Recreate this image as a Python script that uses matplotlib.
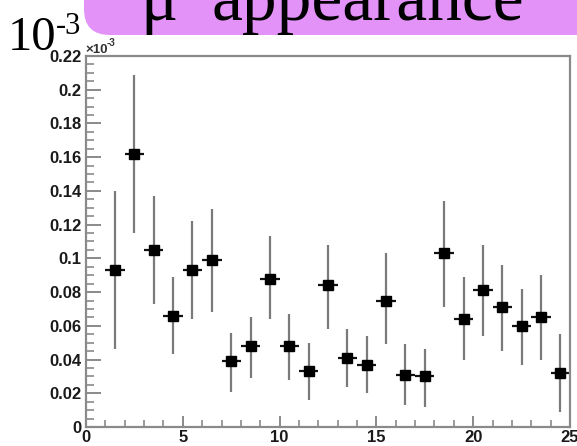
import numpy as np
import matplotlib.pyplot as plt
from matplotlib.patches import FancyBboxPatch
from matplotlib.ticker import MultipleLocator, FormatStrFormatter

# bin centres and measured values (in units of 1e-3)
bin_centres = [1.5, 2.5, 3.5, 4.5, 5.5, 6.5, 7.5, 8.5, 9.5, 10.5, 11.5, 12.5,
               13.5, 14.5, 15.5, 16.5, 17.5, 18.5, 19.5, 20.5, 21.5, 22.5, 23.5, 24.5]
values = [0.093, 0.162, 0.105, 0.066, 0.093, 0.099, 0.039, 0.048, 0.088, 0.048, 0.033, 0.084,
          0.041, 0.037, 0.075, 0.031, 0.030, 0.103, 0.064, 0.081, 0.071, 0.060, 0.065, 0.032]
err_low = [0.046, 0.115, 0.073, 0.043, 0.064, 0.068, 0.021, 0.029, 0.064, 0.028, 0.016, 0.058,
           0.024, 0.020, 0.049, 0.013, 0.012, 0.071, 0.040, 0.054, 0.045, 0.037, 0.040, 0.009]
err_high = [0.140, 0.209, 0.137, 0.089, 0.122, 0.129, 0.056, 0.065, 0.113, 0.067, 0.050, 0.108,
            0.058, 0.054, 0.103, 0.049, 0.046, 0.134, 0.089, 0.108, 0.096, 0.082, 0.090, 0.055]
bin_width = 1.0

W, H = 577, 446
fig = plt.figure(figsize=(W / 100, H / 100), dpi=100)
serif = ['Liberation Serif', 'DejaVu Serif']

# pixel-space overlay for the banner and the big exponent
bg = fig.add_axes([0, 0, 1, 1])
bg.set_xlim(0, W)
bg.set_ylim(H, 0)
bg.axis('off')
banner = FancyBboxPatch((84, -60), 520, 95, boxstyle='round,pad=0,rounding_size=26',
                        facecolor='#e392f8', edgecolor='none')
bg.add_patch(banner)
# mu^- appearance, drawn in pieces so the superscript minus stays narrow
bg.text(140, 20, '\u03bc', fontsize=50, family=serif, va='baseline', ha='left')
bg.text(172, -12, '-', fontsize=32, family=serif, va='baseline', ha='left')
bg.text(211, 20, 'appearance', fontsize=50, family=serif, va='baseline', ha='left')
bg.text(8, 50, '10', fontsize=35, family=serif, va='baseline', ha='left')
bg.text(56, 34, '-3', fontsize=22, family=serif, va='baseline', ha='left')

ax = fig.add_axes([86 / W, 1 - 427 / H, (570 - 86) / W, (427 - 56) / H])
x = np.array(bin_centres)
y = np.array(values)
lo = y - np.array(err_low)
hi = np.array(err_high) - y
ax.errorbar(x, y, yerr=[lo, hi], fmt='none', ecolor='#7a7a7a', elinewidth=1.6, capsize=0)
ax.errorbar(x, y, xerr=bin_width / 2, fmt='s', color='black', ms=6.5,
            ecolor='#111111', elinewidth=1.6, capsize=0)

ax.set_xlim(0, 25)
ax.set_ylim(0, 0.22)
ax.xaxis.set_major_locator(MultipleLocator(5))
ax.xaxis.set_minor_locator(MultipleLocator(1))
ax.yaxis.set_major_locator(MultipleLocator(0.02))
ax.yaxis.set_minor_locator(MultipleLocator(0.005))
ax.yaxis.set_major_formatter(FormatStrFormatter('%g'))

for sp in ax.spines.values():
    sp.set_color('#8a8a8a')
    sp.set_linewidth(1.6)
ax.tick_params(which='both', direction='in', color='#8a8a8a', top=False, right=False)
ax.tick_params(which='major', axis='y', length=11, width=1.4)
ax.tick_params(which='minor', axis='y', length=6, width=1.2)
ax.tick_params(which='major', axis='x', length=8, width=1.4)
ax.tick_params(which='minor', axis='x', length=5, width=1.2)
for lab in ax.get_xticklabels() + ax.get_yticklabels():
    lab.set_fontweight('bold')
    lab.set_family('Liberation Sans')
    lab.set_fontsize(12)
    lab.set_color('#1a1a1a')
ax.tick_params(axis='y', pad=3)
ax.tick_params(axis='x', pad=2)

fig.text(85 / W, 1 - 53 / H, '\u00d710', fontsize=9.5, fontweight='bold',
         family='Liberation Sans', color='#333333', va='baseline')
fig.text(107 / W, 1 - 46 / H, '-3', fontsize=7, fontweight='bold',
         family='Liberation Sans', color='#333333', va='baseline')

fig.savefig('out.png', dpi=100)
